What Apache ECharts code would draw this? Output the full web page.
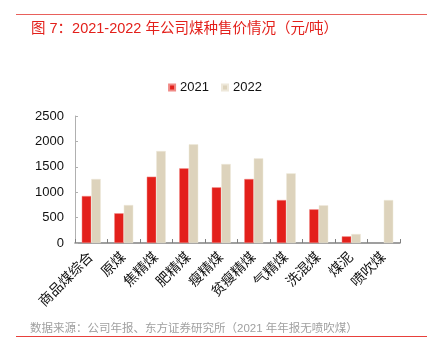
<!DOCTYPE html>
<html>
<head>
<meta charset="utf-8">
<script src="https://cdn.jsdelivr.net/npm/echarts@6/dist/echarts.min.js"></script>
<style>html,body{margin:0;padding:0;background:#fff;}#c{width:430px;height:355px;}</style>
</head>
<body>
<div id="c"></div>
<script>
const categories = ['商品煤综合','原煤','焦精煤','肥精煤','瘦精煤','贫瘦精煤','气精煤','洗混煤','煤泥','喷吹煤'];
const values2021 = [925, 585, 1305, 1470, 1096, 1260, 846, 663, 131, null];
const values2022 = [1260, 748, 1811, 1942, 1555, 1667, 1371, 742, 177, 846];
const yTicks = [0, 500, 1000, 1500, 2000, 2500];

const FONT = '"Liberation Sans", Arial, "Noto Sans CJK SC", sans-serif';
const chart = echarts.init(document.getElementById('c'), null, {renderer: 'canvas'});
chart.setOption({
  animation: false,
  backgroundColor: '#fff',
  textStyle: {fontFamily: FONT},
  title: [
    {text: '图 7：2021-2022 年公司煤种售价情况（元/吨）', left: 26, top: 17,
     textStyle: {color: '#E3201B', fontSize: 14.5, fontWeight: 'normal', fontFamily: FONT}},
    {text: '数据来源：公司年报、东方证券研究所（2021 年年报无喷吹煤）', left: 25, top: 318,
     textStyle: {color: '#a0a0a0', fontSize: 11.5, fontWeight: 'normal', fontFamily: FONT}}
  ],
  graphic: [
    {type: 'line', shape: {x1: 16, y1: 14.5, x2: 427, y2: 14.5}, style: {stroke: '#E8605B', lineWidth: 1}},
    {type: 'line', shape: {x1: 16, y1: 336.5, x2: 427, y2: 336.5}, style: {stroke: '#E8403B', lineWidth: 1}}
  ],
  legend: {
    data: ['2021', '2022'], left: 'center', top: 76,
    itemWidth: 6, itemHeight: 6, itemGap: 12, icon: 'rect',
    textStyle: {fontSize: 13, color: '#111', fontFamily: FONT}
  },
  grid: {left: 75, right: 30, top: 116, bottom: 112},
  xAxis: {
    type: 'category', data: categories,
    axisLine: {lineStyle: {color: '#808080', width: 1.5}},
    axisTick: {show: true, alignWithLabel: false, inside: true, length: 4, lineStyle: {color: '#808080'}},
    axisLabel: {rotate: 45, fontSize: 14, color: '#111', margin: 12, interval: 0, fontFamily: FONT}
  },
  yAxis: {
    type: 'value', min: yTicks[0], max: yTicks[yTicks.length - 1], interval: 500,
    axisLine: {show: true, lineStyle: {color: '#b0b0b0'}},
    axisTick: {show: true, length: 3, inside: true, lineStyle: {color: '#b0b0b0'}},
    splitLine: {show: false},
    axisLabel: {fontSize: 13, color: '#111', margin: 11, fontFamily: FONT, formatter: v => String(v)}
  },
  series: [
    {name: '2021', type: 'bar', data: values2021, barWidth: 9.5, barGap: '0%',
     itemStyle: {color: '#E3201B', borderColor: '#F08A86', borderWidth: 0.5}},
    {name: '2022', type: 'bar', data: values2022, barWidth: 9.5, barGap: '0%',
     itemStyle: {color: '#DDD3BC', borderColor: '#EEE8DA', borderWidth: 0.5}}
  ]
});
</script>
</body>
</html>
